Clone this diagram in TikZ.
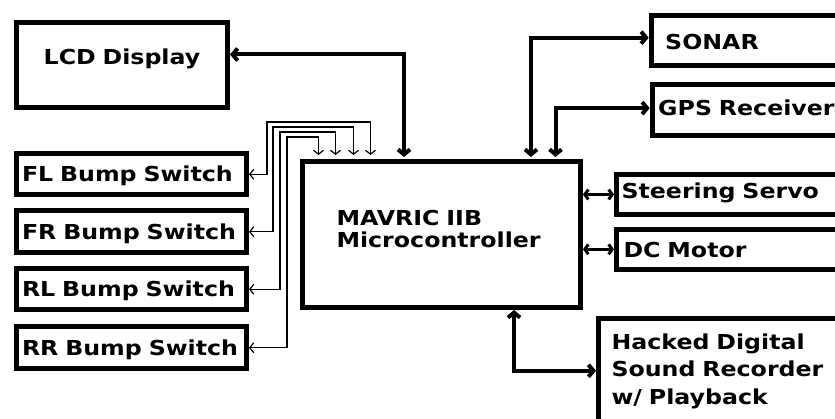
\documentclass[tikz,border=0pt]{standalone}
\usepackage{fontspec}
\newfontfamily\blkfont{DejaVu Sans}[FakeStretch=1.15]
\usetikzlibrary{arrows.meta}
\tikzset{
  blk/.style={draw, line width=5pt, anchor=north west, inner ysep=0pt, align=left,
    font=\blkfont\bfseries\fontsize{20.6}{21.7}\selectfont},
  bigarr/.style={line width=4pt, {Straight Barb[length=5pt,width=12pt]}-{Straight Barb[length=5pt,width=12pt]}},
  midarr/.style={line width=3pt, {Straight Barb[length=3.5pt,width=10pt]}-{Straight Barb[length=3.5pt,width=10pt]}},
  sigarr/.style={line width=1.2pt, {Straight Barb[length=4pt,width=10pt]}-{Straight Barb[length=4pt,width=10pt]}},
}
\begin{document}
\begin{tikzpicture}[x=1pt,y=-1pt]
\useasboundingbox (0,0) rectangle (835,419);
\clip (0,0) rectangle (835,419);

% left column
\node[blk, align=center, inner xsep=0pt, text width=211pt, text height=42pt, text depth=43pt] (lcd) at (14,20) {LCD Display};
\node[blk, inner xsep=5.5pt, text width=219pt, text height=28.5pt, text depth=13pt] (flsw) at (14,151) {FL Bump Switch};
\node[blk, inner xsep=5.5pt, text width=219pt, text height=28.5pt, text depth=13pt] (frsw) at (14,208.5) {FR Bump Switch};
\node[blk, inner xsep=5.5pt, text width=219pt, text height=28.5pt, text depth=13pt] (rlsw) at (14,266) {RL Bump Switch};
\node[blk, inner xsep=5.5pt, text width=219pt, text height=28.5pt, text depth=13pt] (rrsw) at (14,324.5) {RR Bump Switch};

% controller
\node[blk, inner xsep=34pt, text width=210pt, text height=64pt, text depth=82pt] (mcu) at (300,159) {MAVRIC IIB\\Microcontroller};

% right column
\node[blk, inner xsep=14pt, text width=222pt, text height=33.7pt, text depth=16.6pt] (sonar) at (648.7,13) {SONAR};
\node[blk, inner xsep=6pt, text width=238pt, text height=31.3pt, text depth=20pt] (gps) at (649.7,82) {GPS Receiver};
\node[blk, inner xsep=5pt, text width=240pt, text height=24pt, text depth=16pt] (servo) at (614,172) {Steering Servo};
\node[blk, inner xsep=7pt, text width=236pt, text height=28.3pt, text depth=12pt] (motor) at (614,226.7) {DC Motor};
\node[blk, inner xsep=13pt, text width=234pt, text height=30.4pt, text depth=103pt,
  font=\blkfont\bfseries\fontsize{20.6}{27.5}\selectfont] (recorder) at (596,316.3) {Hacked Digital\\Sound Recorder\\w/ Playback};

% thick links
\draw[bigarr, shorten >=2pt] ([yshift=10.5pt]lcd.east) -| ([xshift=-37.5pt]mcu.north);
\draw[bigarr, shorten <=2pt] ([xshift=89.5pt]mcu.north) |- ([yshift=3pt]sonar.west);
\draw[bigarr, shorten <=2pt] ([xshift=114pt]mcu.north) |- ([yshift=2pt]gps.west);
\draw[midarr] (mcu.east |- servo.west) -- (servo.west);
\draw[midarr] (mcu.east |- motor.west) -- (motor.west);
\draw[bigarr] ([xshift=72.5pt]mcu.south) |- ([yshift=-54.5pt]recorder.north west);

% bump switch lines
\draw[sigarr, shorten >=4pt] (flsw.east) -| (267,122) -| ([xshift=-71pt]mcu.north);
\draw[sigarr, shorten >=4pt] (frsw.east) -| (273,127) -| ([xshift=-88pt]mcu.north);
\draw[sigarr, shorten >=4pt] (rlsw.east) -| (280,132) -| ([xshift=-106pt]mcu.north);
\draw[sigarr, shorten >=4pt] (rrsw.east) -| (287,137) -| ([xshift=-123pt]mcu.north);
\end{tikzpicture}
\end{document}
